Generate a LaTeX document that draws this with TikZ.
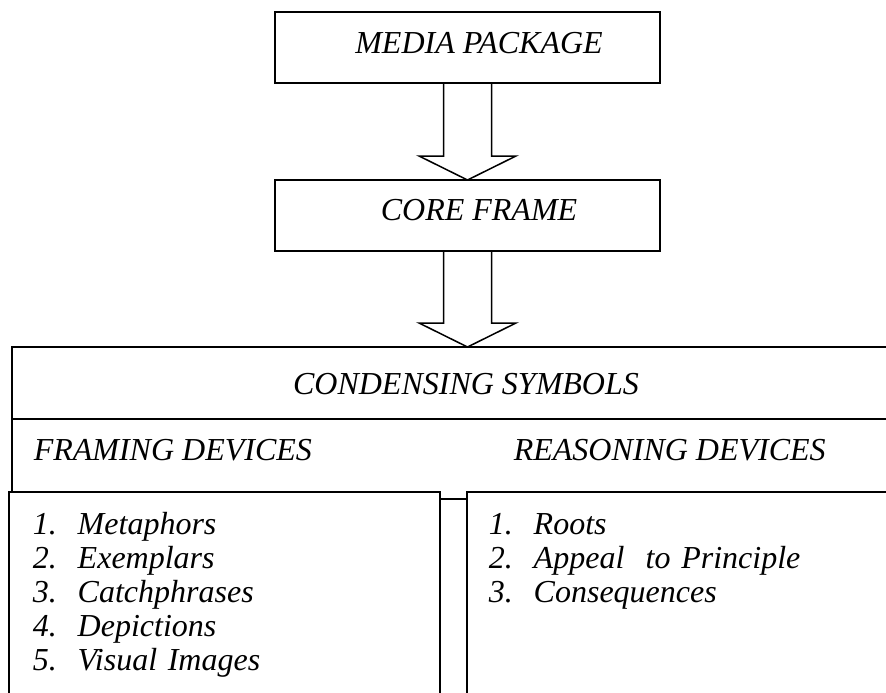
\documentclass[tikz,border=0pt]{standalone}
\usepackage{fontspec}
\setmainfont{Liberation Serif}
\usetikzlibrary{calc, positioning}

\begin{document}
\begin{tikzpicture}[x=1pt, y=-1pt, line width=1.5pt]
	\tikzstyle{box} = [draw, rectangle, inner sep=0pt, outer sep=0pt]
	\tikzstyle{txt} = [inner sep=0pt, font=\fontsize{32}{38}\selectfont\itshape]
	\tikzstyle{item} = [txt, node distance=3pt, text width=380pt, align=left, text height=22.5pt, text depth=7pt]
	\def\num#1{\makebox[45pt][l]{#1}}
	\def\shaft{24pt};
	\def\head{48.5pt};
	\def\tip{24pt};

	\clip (0,0) rectangle (886,693);

	\node[box, minimum width=385pt, minimum height=71pt] (media) at (467.5,47.5) {};
	\node[txt, anchor=base] (mediatxt) at (479,53) {MEDIA PACKAGE};

	\node[box, minimum width=385pt, minimum height=71pt] (core) at (467.5,215.5) {};
	\node[txt, anchor=base] (coretxt) at (479,220) {CORE FRAME};

	\node[box, minimum width=888pt, minimum height=72pt] (symbols) at (456,383) {};
	\node[txt, anchor=base] (symtxt) at (466,394) {CONDENSING SYMBOLS};
	\node[txt, anchor=base west] (framtxt) at (33,460) {FRAMING DEVICES};
	\node[txt, anchor=base west] (reastxt) at (513,460) {REASONING DEVICES};

	\node[box, minimum width=431pt, minimum height=228pt, anchor=north west] (framebox) at (9,492) {};
	\node[box, minimum width=433pt, minimum height=228pt, anchor=north west] (reasonbox) at (467,492) {};
	\draw (symbols.south west) -- (symbols.south west |- framebox.north);
	\draw ($(framebox.north east)+(0,7)$) -- ($(reasonbox.north west)+(0,7)$);

	% block arrows
	\draw
		let
			\p1 = (media.south),
			\p2 = (core.north)
		in
			({\x1-\shaft},\y1) -- ({\x1-\shaft},{\y2+\tip}) -- ({\x1-\head},{\y2+\tip})
			-- (\x1,\y2) -- ({\x1+\head},{\y2+\tip}) -- ({\x1+\shaft},{\y2+\tip}) -- ({\x1+\shaft},\y1);
	\draw
		let
			\p1 = (core.south),
			\p2 = (symbols.north)
		in
			({\x1-\shaft},\y1) -- ({\x1-\shaft},{\y2+\tip}) -- ({\x1-\head},{\y2+\tip})
			-- (\x1,\y2) -- ({\x1+\head},{\y2+\tip}) -- ({\x1+\shaft},{\y2+\tip}) -- ({\x1+\shaft},\y1);

	\node[item, anchor=base west] (fd1) at (32,534) {\num{1.}Metaphors};
	\node[item, below=of fd1] (fd2) {\num{2.}Exemplars};
	\node[item, below=of fd2] (fd3) {\num{3.}Catchphrases};
	\node[item, below=of fd3] (fd4) {\num{4.}Depictions};
	\node[item, below=of fd4] (fd5) {\num{5.}Visual Images};

	\node[item, anchor=base west] (rd1) at (488,534) {\num{1.}Roots};
	\node[item, below=of rd1] (rd2) {\num{2.}Appeal\ \ to Principle};
	\node[item, below=of rd2] (rd3) {\num{3.}Consequences};
\end{tikzpicture}
\end{document}
